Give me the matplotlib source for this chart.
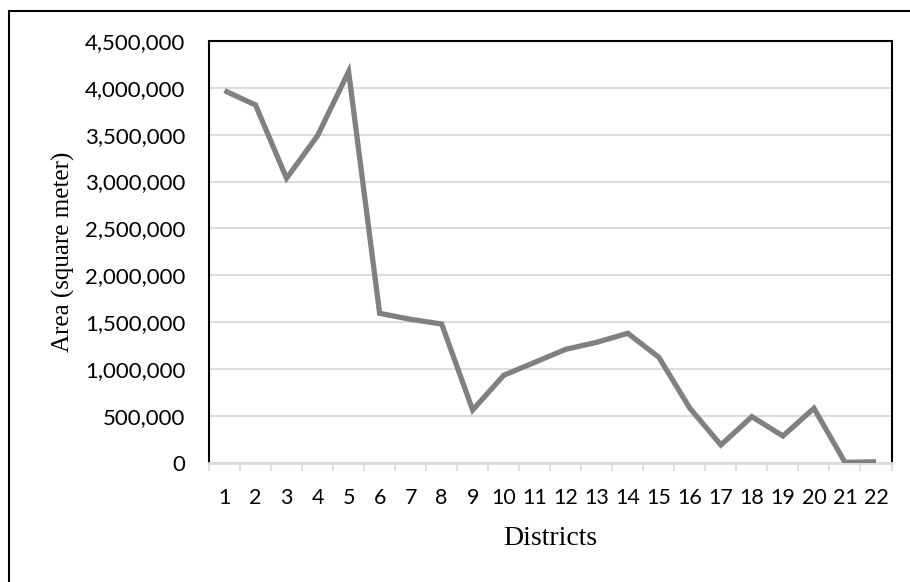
import matplotlib
matplotlib.use("Agg")
import matplotlib.pyplot as plt
from matplotlib.patches import Rectangle
from matplotlib.ticker import FuncFormatter, MultipleLocator, FixedLocator

districts = list(range(1, 23))
area = [3970000, 3817000, 3035000, 3490000, 4173000, 1594000, 1530000, 1480000,
        562000, 933000, 1071000, 1210000, 1285000, 1381000, 1125000, 581000,
        189000, 491000, 285000, 581000, 4000, 10000]

W, H = 910, 582
fig = plt.figure(figsize=(W / 100, H / 100), dpi=100)
fig.patch.set_facecolor("white")

ax = fig.add_axes([209 / W, 1 - 462.7 / H, (891.5 - 209) / W, (462.7 - 41) / H])

ax.plot(districts, area, color="#808080", lw=3.8, solid_joinstyle="miter",
        solid_capstyle="butt", zorder=3)

ax.set_xlim(0.5, 22.5)
ax.set_ylim(0, 4500000)

ax.yaxis.set_major_locator(MultipleLocator(500000))
ax.yaxis.set_major_formatter(FuncFormatter(lambda v, p: f"{int(v):,}"))
ax.grid(axis="y", color="#d9d9d9", lw=1.3, zorder=0)

ax.set_xticks(districts)
ax.set_xticklabels([str(d) for d in districts])
ax.xaxis.set_minor_locator(FixedLocator([i + 0.5 for i in range(0, 23)]))
ax.tick_params(axis="x", which="major", length=0, pad=18.5)
ax.tick_params(axis="x", which="minor", length=6, width=1.2, color="#d9d9d9", direction="out")
ax.tick_params(axis="y", length=0, pad=17)

for lab in ax.get_xticklabels():
    lab.set_fontfamily("Lato")
    lab.set_fontsize(15.5)
for lab in ax.get_yticklabels():
    lab.set_fontfamily("Lato")
    lab.set_fontsize(16)

for side in ("top", "left", "right"):
    ax.spines[side].set_color("black")
    ax.spines[side].set_linewidth(1.5)
ax.spines["bottom"].set_color("#d9d9d9")
ax.spines["bottom"].set_linewidth(2)

ax.set_ylabel("Area (square meter)", family="Liberation Serif", fontsize=18, labelpad=7.5)
ax.set_xlabel("Districts", family="Liberation Serif", fontsize=20, labelpad=13)

# frame around the whole chart
fig.add_artist(Rectangle((9 / W, -0.1), 2, (H - 11) / H + 0.1,
                         transform=fig.transFigure, fill=False,
                         edgecolor="black", lw=1.5))

fig.savefig("out.png", dpi=100)
